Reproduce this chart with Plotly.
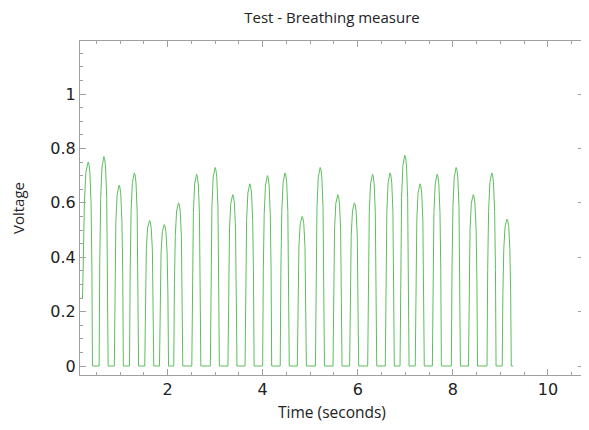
import plotly.graph_objects as go

# Pulse readings (seconds / volts)
peak_times = [0.33, 0.66, 0.98, 1.30, 1.62, 1.93, 2.23, 2.61, 3.00, 3.37, 3.73, 4.10, 4.47,
              4.83, 5.21, 5.58, 5.93, 6.31, 6.68, 6.99, 7.31, 7.67, 8.07, 8.43, 8.82, 9.14]
peak_values = [0.75, 0.77, 0.665, 0.71, 0.535, 0.52, 0.60, 0.705, 0.73, 0.63, 0.67, 0.70, 0.71,
               0.55, 0.73, 0.63, 0.60, 0.705, 0.71, 0.775, 0.67, 0.705, 0.73, 0.63, 0.71, 0.54]
rise_starts = [0.21, 0.56, 0.88, 1.20, 1.52, 1.83, 2.13, 2.51, 2.90, 3.27, 3.63, 4.00, 4.37,
               4.73, 5.11, 5.48, 5.83, 6.21, 6.58, 6.89, 7.21, 7.57, 7.97, 8.33, 8.72, 9.04]
fall_ends = [0.42, 0.75, 1.07, 1.39, 1.71, 2.02, 2.32, 2.70, 3.09, 3.46, 3.82, 4.19, 4.56,
             4.92, 5.30, 5.67, 6.02, 6.40, 6.77, 7.08, 7.40, 7.76, 8.16, 8.52, 8.91, 9.23]
start_time = 0.19
start_voltage = 0.25
end_time = 9.27

x_tick_vals = [2, 4, 6, 8, 10]
y_tick_vals = [0, 0.2, 0.4, 0.6, 0.8, 1]

# Pulse outline template: (fraction of half-width from edge, fraction of peak)
shape_rise = [(0.0, 0.0), (0.14, 0.5), (0.33, 0.8), (0.6, 0.95), (0.82, 0.99), (1.0, 1.0)]

xs, ys = [start_time], [start_voltage]
for i, (s, p, e, v) in enumerate(zip(rise_starts, peak_times, fall_ends, peak_values)):
    for fx, fy in shape_rise:
        xs.append(s + fx * (p - s))
        ys.append(max(start_voltage, fy * v) if i == 0 else fy * v)
    for fx, fy in reversed(shape_rise[:-1]):
        xs.append(e - fx * (e - p))
        ys.append(fy * v)
xs.append(end_time)
ys.append(0.0)

color = "#5cbf5c"
fig = go.Figure()
fig.add_trace(go.Scatter(x=xs, y=ys, mode="lines", line=dict(color=color, width=1),
                         showlegend=False))

axis_common = dict(showline=True, linecolor="#a0a0a0", linewidth=1, mirror="allticks",
                   ticks="inside", ticklen=6, tickcolor="#a0a0a0", showgrid=False, zeroline=False,
                   tickfont=dict(family="DejaVu Sans", size=16, color="#222222"))

fig.update_xaxes(range=[0.158, 10.76], tickvals=x_tick_vals,
                 minor=dict(ticks="inside", ticklen=3, dtick=0.5, tick0=0, tickcolor="#a0a0a0"),
                 title=dict(text="Time (seconds)", font=dict(family="Open Sans", size=15.5, color="#222222"),
                            standoff=8),
                 **axis_common)
fig.update_yaxes(range=[-0.033, 1.195], tickvals=y_tick_vals,
                 minor=dict(ticks="inside", ticklen=3, dtick=0.05, tick0=0, tickcolor="#a0a0a0"),
                 title=dict(text="Voltage", font=dict(family="Open Sans", size=15, color="#222222"),
                            standoff=22),
                 **axis_common)

fig.update_layout(
    width=581, height=422,
    margin=dict(l=72, r=5, t=33, b=55),
    paper_bgcolor="white", plot_bgcolor="white",
    title=dict(text="Test - Breathing measure", x=0.5, xref="paper", y=0.978, yref="container",
               yanchor="middle", font=dict(family="Open Sans", size=15, color="#222222")),
)

fig.write_html("out.html")
